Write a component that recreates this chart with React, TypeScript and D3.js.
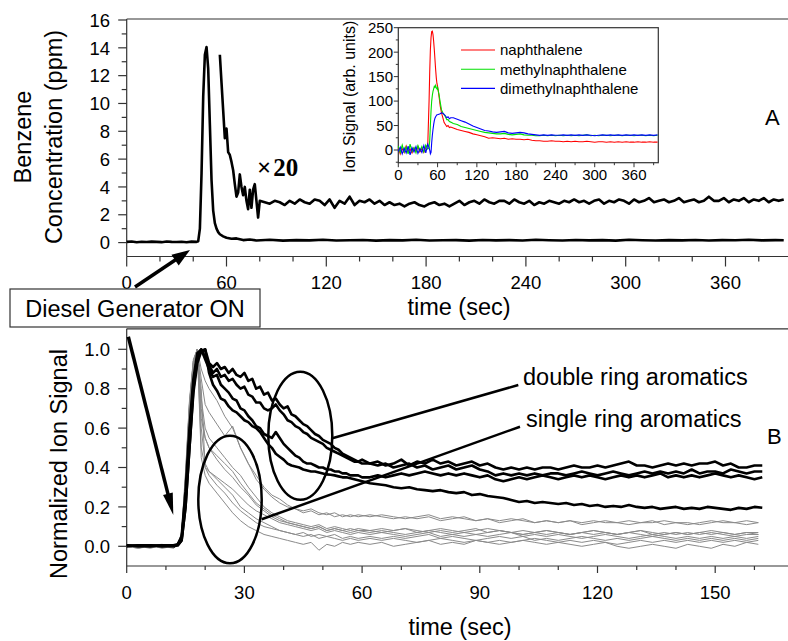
import React from "react";
import * as d3 from "d3";

const FONT = "'Liberation Sans', Arial, Helvetica, sans-serif";

// ---------------- Panel A : benzene concentration (ppm) ----------------
const benzeneTime = [0, 3, 6, 9, 12, 15, 18, 21, 24, 27, 30, 33, 36, 39, 42, 43, 44, 45, 46, 47, 48, 49, 50, 51, 52, 53, 54, 55, 56, 58, 60, 63, 66, 70, 74, ...d3.range(78, 391, 8), 395];
const benzeneValue = [
  0.05, 0.08, 0.03, 0.06, 0.04, 0.07, 0.05, 0.03, 0.08, 0.05, 0.04, 0.06, 0.03, 0.07, 0.05,
  0.1, 1.0, 5, 10.5, 13.5, 14.05, 12.5, 8.5, 4.5, 2.3, 1.4, 1.0, 0.75, 0.6, 0.45, 0.35,
  0.28, 0.3, 0.18, 0.22,
  0.15, 0.2, 0.14, 0.18, 0.16, 0.2, 0.15, 0.17, 0.19, 0.14, 0.18, 0.16, 0.2, 0.15, 0.17, 0.18, 0.14, 0.19, 0.16, 0.18,
  0.15, 0.2, 0.17, 0.15, 0.19, 0.16, 0.18, 0.14, 0.2, 0.17, 0.15, 0.18, 0.16, 0.19, 0.15, 0.18, 0.17, 0.2, 0.16, 0.18,
  0.17,
];
// same signal multiplied by 20
const x20Time = [...d3.range(56, 81, 1), ...d3.range(83, 396, 3)];
const x20Value = [
  13.5, 11.5, 9.5, 7.5, 8.2, 6.5, 6.3, 5.8, 5.2, 4.2, 3.3, 3.6, 4.9, 4.0, 3.4, 4.0, 3.0, 2.4, 3.8, 2.5, 3.8, 4.2, 3.0, 1.8, 3.0,
  2.9, 2.8, 3.0, 2.9, 2.7, 3.0, 2.8, 3.1, 2.9, 2.8, 3.1, 3.0, 2.7, 3.1, 2.5, 3.0, 2.8, 3.3, 2.7, 3.0,
  2.9, 3.1, 2.8, 3.0, 2.7, 2.9, 2.7, 2.8, 2.6, 2.8, 2.9, 2.7, 2.6, 2.8, 2.9, 2.7, 2.8, 2.6, 2.8, 3.0,
  2.7, 2.9, 3.0, 2.8, 3.1, 2.9, 2.8, 3.0, 3.0, 2.8, 3.1, 2.9, 2.8, 3.0, 2.7, 2.9, 2.8, 3.0, 2.9, 2.8,
  3.0, 2.9, 3.1, 2.9, 3.0, 2.8, 3.0, 3.1, 2.8, 3.0, 2.9, 3.1, 3.0, 2.8, 3.1, 2.9, 3.0, 3.2, 2.9, 3.0,
  3.1, 2.9, 3.0, 3.2, 2.9, 3.0, 3.1, 2.9, 3.0, 3.3, 3.0, 3.0, 3.2, 2.9, 3.1, 3.0, 3.2, 2.9, 3.1, 3.0,
  3.2, 2.9, 3.1, 3.0, 3.1,
];

// ---------------- Inset : ion signal (arb. units) ----------------
const insetTime = [...d3.range(0, 46, 3), ...d3.range(47, 61, 1), ...d3.range(62, 81, 2), ...d3.range(84, 397, 6)];
const naphthalene = [
  5, -8, 3, -5, 8, -3, 2, -6, 4, -2, 7, -4, 3, -5, 6, 10,
  100, 160, 205, 230, 242, 243, 236, 222, 205, 185, 165, 148, 136, 130,
  112, 90, 76, 66, 56, 52, 48, 50, 46, 47,
  45, 42, 40, 38, 36, 33, 31, 29, 27, 24, 25, 24, 23, 24, 22, 23, 22, 22, 21, 22,
  20, 19, 19, 18, 18, 19, 18, 18, 17, 18, 17, 18, 17, 17, 18, 17, 16, 17, 17, 16,
  17, 16, 17, 16, 17, 16, 16, 17, 16, 16, 17, 16, 16,
];
const methylnaphthalene = [
  8, -5, 10, -4, 6, -8, 12, -3, 5, -6, 9, -2, 7, -4, 10, 2,
  5, 20, 50, 80, 100, 112, 120, 125, 130, 128, 132, 127, 125, 128,
  115, 98, 82, 76, 72, 68, 62, 62, 58, 57,
  54, 52, 48, 46, 44, 42, 40, 38, 36, 35, 34, 33, 33, 34, 32, 31, 32, 33, 31, 30,
  30, 29, 29, 30, 29, 30, 29, 30, 29, 30, 29, 30, 29, 30, 31, 29, 30, 29, 30, 30,
  29, 30, 30, 29, 30, 30, 29, 30, 30, 29, 30, 29, 30,
];
const dimethylnaphthalene = [
  -3, 6, -8, 4, -6, 8, -10, 5, -4, 7, -7, 3, -5, 9, -6, 12,
  5, 0, -8, -5, 15, 30, 42, 52, 60, 65, 68, 70, 72, 72,
  73, 74, 76, 75, 73, 70, 66, 68, 64, 66,
  66, 63, 60, 57, 53, 49, 46, 43, 40, 39, 37, 36, 37, 38, 35, 34, 35, 36, 35, 33,
  32, 31, 30, 31, 30, 31, 30, 30, 31, 30, 31, 30, 31, 30, 31, 30, 29, 30, 31, 30,
  31, 30, 31, 30, 31, 30, 31, 30, 31, 30, 31, 30, 31,
];
const insetSeries = [
  { name: "naphthalene", color: "#ff0000", values: naphthalene },
  { name: "methylnaphthalene", color: "#00e000", values: methylnaphthalene },
  { name: "dimethylnaphthalene", color: "#0000ff", values: dimethylnaphthalene },
];

// ---------------- Panel B : normalized ion signal ----------------
const blackTime = [0, 3, 6, 9, 12, 13, 14, 15, 16, 17, 18, 19, 20, ...d3.range(21, 61, 1), ...d3.range(62, 163, 2)];
const doubleRing1 = [
  0, 0.005, 0, 0.005, 0, 0.005, 0.03, 0.2, 0.5, 0.78, 0.93, 0.99, 1.0,
  0.93, 0.91, 0.93, 0.9, 0.91, 0.88, 0.9, 0.87, 0.86, 0.88, 0.84, 0.85, 0.8, 0.81, 0.77, 0.78, 0.74, 0.75, 0.72, 0.7,
  0.71, 0.67, 0.66, 0.64, 0.62, 0.61, 0.59, 0.57, 0.56, 0.54, 0.53, 0.52, 0.5, 0.49, 0.47, 0.46, 0.45, 0.44, 0.43, 0.44,
  0.42, 0.43, 0.41, 0.42, 0.44, 0.41, 0.43, 0.42, 0.44, 0.42, 0.43, 0.41, 0.42, 0.43, 0.41, 0.42, 0.40, 0.39, 0.40, 0.39,
  0.40, 0.39, 0.40, 0.40, 0.39, 0.40, 0.41, 0.40, 0.40, 0.41, 0.40, 0.41, 0.42, 0.43, 0.41, 0.41, 0.40, 0.41, 0.42, 0.41,
  0.42, 0.41, 0.42, 0.42, 0.43, 0.41, 0.42, 0.40, 0.40, 0.41, 0.41,
];
const doubleRing2 = [
  0.005, 0, 0.005, 0, 0.005, 0.01, 0.05, 0.28, 0.6, 0.85, 0.98, 1.0, 0.96,
  0.92, 0.88, 0.9, 0.86, 0.87, 0.84, 0.85, 0.82, 0.8, 0.81, 0.77, 0.76, 0.73, 0.73, 0.7, 0.69, 0.7, 0.72, 0.69, 0.67,
  0.64, 0.63, 0.61, 0.6, 0.58, 0.57, 0.55, 0.54, 0.53, 0.52, 0.5, 0.49, 0.48, 0.47, 0.46, 0.45, 0.44, 0.43, 0.43, 0.42,
  0.42, 0.41, 0.42, 0.40, 0.41, 0.42, 0.40, 0.41, 0.39, 0.40, 0.41, 0.39, 0.40, 0.41, 0.39, 0.38, 0.36, 0.37, 0.36, 0.37,
  0.36, 0.37, 0.36, 0.37, 0.37, 0.36, 0.37, 0.38, 0.37, 0.36, 0.37, 0.38, 0.37, 0.36, 0.37, 0.38, 0.37, 0.38, 0.37, 0.38,
  0.37, 0.39, 0.37, 0.38, 0.38, 0.37, 0.39, 0.38, 0.37, 0.38, 0.38,
];
const doubleRing3 = [
  0, 0.005, 0.005, 0, 0, 0.01, 0.04, 0.24, 0.55, 0.82, 0.96, 1.0, 0.95,
  0.9, 0.86, 0.87, 0.82, 0.8, 0.78, 0.75, 0.74, 0.7, 0.69, 0.66, 0.64, 0.61, 0.6, 0.57, 0.56, 0.55, 0.58, 0.55, 0.52,
  0.5, 0.48, 0.46, 0.45, 0.43, 0.42, 0.42, 0.41, 0.4, 0.4, 0.39, 0.39, 0.38, 0.38, 0.37, 0.37, 0.36, 0.36, 0.36, 0.35,
  0.35, 0.36, 0.35, 0.36, 0.37, 0.36, 0.37, 0.38, 0.37, 0.36, 0.37, 0.36, 0.37, 0.36, 0.35, 0.36, 0.34, 0.33, 0.34, 0.35,
  0.34, 0.35, 0.36, 0.35, 0.34, 0.35, 0.36, 0.35, 0.36, 0.35, 0.34, 0.35, 0.36, 0.35, 0.36, 0.35, 0.36, 0.37, 0.35, 0.36,
  0.35, 0.36, 0.35, 0.36, 0.37, 0.36, 0.35, 0.36, 0.35, 0.34, 0.35,
];
const doubleRing4 = [
  0.005, 0, 0, 0.005, 0.005, 0.005, 0.03, 0.2, 0.5, 0.8, 0.95, 0.99, 1.0,
  0.88, 0.82, 0.79, 0.75, 0.74, 0.71, 0.69, 0.68, 0.66, 0.64, 0.63, 0.61, 0.6, 0.58, 0.55, 0.52, 0.5, 0.47, 0.455, 0.44,
  0.42, 0.41, 0.405, 0.40, 0.39, 0.385, 0.38, 0.38, 0.375, 0.37, 0.365, 0.363, 0.36, 0.355, 0.35, 0.35, 0.345, 0.34, 0.335, 0.33,
  0.32, 0.315, 0.31, 0.3, 0.295, 0.3, 0.29, 0.285, 0.28, 0.285, 0.275, 0.27, 0.275, 0.26, 0.265, 0.255, 0.25, 0.245, 0.235, 0.225,
  0.23, 0.22, 0.225, 0.22, 0.215, 0.22, 0.21, 0.215, 0.205, 0.21, 0.2, 0.205, 0.2, 0.21, 0.2, 0.195, 0.2, 0.19, 0.195, 0.2,
  0.19, 0.195, 0.19, 0.2, 0.195, 0.19, 0.185, 0.195, 0.19, 0.2, 0.196,
];
const doubleRingSeries = [doubleRing1, doubleRing2, doubleRing3, doubleRing4];

const grayTime = [0, 3, 6, 9, 12, 13, 14, 15, 16, 17, 18, 19, 20, ...d3.range(21, 60, 2), ...d3.range(62, 162, 3)];
const singleRing1 = [
  0, -0.01, 0.005, -0.01, 0, 0.01, 0.06, 0.35, 0.72, 0.94, 1.0, 0.9, 0.84,
  0.8, 0.74, 0.66, 0.6, 0.5, 0.42, 0.34, 0.29, 0.25, 0.22, 0.2, 0.19, 0.17, 0.18, 0.16, 0.17, 0.15, 0.16, 0.15, 0.16,
  0.15, 0.16, 0.15, 0.14, 0.15, 0.16, 0.14, 0.15, 0.14, 0.13, 0.14, 0.13, 0.14, 0.13, 0.12, 0.13, 0.12, 0.13, 0.12, 0.13,
  0.12, 0.12, 0.13, 0.12, 0.12, 0.13, 0.12, 0.11, 0.12, 0.13, 0.12, 0.12, 0.13, 0.12,
];
const singleRing2 = [
  0, 0.005, -0.005, 0, 0.01, 0.01, 0.07, 0.38, 0.74, 0.95, 1.0, 0.85, 0.72,
  0.68, 0.62, 0.56, 0.61, 0.5, 0.42, 0.36, 0.3, 0.26, 0.24, 0.21, 0.19, 0.18, 0.19, 0.17, 0.16, 0.17, 0.15, 0.16, 0.15,
  0.16, 0.15, 0.14, 0.15, 0.14, 0.15, 0.13, 0.14, 0.15, 0.13, 0.14, 0.12, 0.13, 0.14, 0.12, 0.13, 0.12, 0.13, 0.11, 0.12,
  0.13, 0.12, 0.11, 0.12, 0.13, 0.11, 0.12, 0.12, 0.11, 0.12, 0.13, 0.12, 0.11, 0.12,
];
const singleRing3 = [
  0.005, 0, -0.01, 0.005, 0, 0.005, 0.05, 0.32, 0.7, 0.93, 1.0, 0.7, 0.55,
  0.5, 0.46, 0.42, 0.38, 0.32, 0.27, 0.22, 0.19, 0.16, 0.14, 0.12, 0.11, 0.1, 0.09, 0.1, 0.08, 0.09, 0.08, 0.07, 0.08,
  0.07, 0.08, 0.07, 0.06, 0.07, 0.08, 0.07, 0.06, 0.07, 0.06, 0.07, 0.08, 0.07, 0.06, 0.07, 0.06, 0.07, 0.06, 0.07, 0.08,
  0.07, 0.06, 0.07, 0.06, 0.05, 0.06, 0.07, 0.06, 0.07, 0.06, 0.07, 0.06, 0.07, 0.06,
];
const singleRing4 = [
  0, -0.005, 0.005, 0, -0.01, 0.01, 0.06, 0.36, 0.73, 0.94, 1.0, 0.6, 0.42,
  0.38, 0.35, 0.32, 0.29, 0.25, 0.21, 0.18, 0.16, 0.14, 0.12, 0.11, 0.1, 0.09, 0.08, 0.09, 0.07, 0.08, 0.07, 0.06, 0.07,
  0.06, 0.07, 0.06, 0.05, 0.06, 0.07, 0.05, 0.06, 0.05, 0.06, 0.05, 0.06, 0.07, 0.05, 0.06, 0.05, 0.06, 0.05, 0.04, 0.05,
  0.06, 0.05, 0.04, 0.05, 0.06, 0.05, 0.04, 0.05, 0.04, 0.05, 0.04, 0.05, 0.04, 0.05,
];
const singleRing5 = [
  0, 0.005, 0, -0.005, 0.005, 0.01, 0.06, 0.34, 0.7, 0.92, 1.0, 0.5, 0.4,
  0.36, 0.31, 0.27, 0.22, 0.18, 0.15, 0.12, 0.1, 0.09, 0.08, 0.07, 0.06, 0.07, 0.05, 0.06, 0.05, 0.06, 0.04, 0.05, 0.04,
  0.05, 0.04, 0.05, 0.04, 0.05, 0.06, 0.04, 0.05, 0.04, 0.03, 0.04, 0.05, 0.04, 0.05, 0.03, 0.04, 0.03, 0.04, 0.05, 0.04,
  0.03, 0.04, 0.03, 0.04, 0.05, 0.04, 0.03, 0.04, 0.03, 0.04, 0.03, 0.04, 0.03, 0.04,
];
const singleRing6 = [
  0, 0, 0.005, 0.01, 0, 0.01, 0.05, 0.3, 0.68, 0.92, 1.0, 0.75, 0.6,
  0.55, 0.5, 0.45, 0.4, 0.36, 0.3, 0.25, 0.2, 0.17, 0.15, 0.13, 0.12, 0.11, 0.1, 0.11, 0.09, 0.1, 0.09, 0.08, 0.09,
  0.08, 0.09, 0.08, 0.09, 0.07, 0.08, 0.09, 0.08, 0.07, 0.08, 0.09, 0.08, 0.07, 0.08, 0.07, 0.08, 0.07, 0.06, 0.07, 0.08,
  0.07, 0.06, 0.07, 0.08, 0.07, 0.06, 0.07, 0.06, 0.07, 0.08, 0.07, 0.06, 0.07, 0.07,
];
const singleRing7 = [
  0, -0.01, 0, -0.005, 0, 0.005, 0.05, 0.33, 0.7, 0.93, 1.0, 0.45, 0.36,
  0.32, 0.27, 0.22, 0.17, 0.13, 0.1, 0.08, 0.06, 0.05, 0.04, 0.03, 0.02, 0.01, 0.02, -0.02, 0.01, 0.0, 0.02, 0.01, 0.02,
  0.01, 0.02, 0.0, 0.01, 0.02, 0.03, 0.01, 0.02, 0.01, 0.03, 0.02, 0.01, 0.02, 0.03, 0.02, 0.01, 0.02, 0.01, 0.0, 0.01,
  0.02, 0.0, -0.01, 0.0, 0.01, 0.0, -0.01, 0.01, 0.0, -0.01, 0.01, 0.0, 0.02, 0.01,
];
const singleRing8 = [
  0.005, 0, 0, 0.005, 0, 0.01, 0.06, 0.35, 0.72, 0.94, 1.0, 0.65, 0.55,
  0.5, 0.44, 0.39, 0.35, 0.3, 0.26, 0.21, 0.18, 0.15, 0.13, 0.12, 0.11, 0.1, 0.09, 0.1, 0.08, 0.09, 0.08, 0.09, 0.08,
  0.08, 0.07, 0.08, 0.09, 0.08, 0.07, 0.08, 0.07, 0.08, 0.09, 0.07, 0.08, 0.07, 0.06, 0.07, 0.08, 0.07, 0.06, 0.07, 0.06,
  0.07, 0.06, 0.07, 0.08, 0.06, 0.07, 0.06, 0.07, 0.06, 0.07, 0.06, 0.05, 0.06, 0.06,
];
const singleRing9 = [
  0, 0.005, -0.005, 0, 0.005, 0.005, 0.04, 0.3, 0.66, 0.9, 0.98, 0.8, 0.4,
  0.38, 0.34, 0.3, 0.26, 0.2, 0.17, 0.14, 0.12, 0.1, 0.08, 0.07, 0.06, 0.05, 0.06, 0.04, 0.05, 0.04, 0.03, 0.04, 0.03,
  0.04, 0.03, 0.04, 0.03, 0.02, 0.03, 0.04, 0.03, 0.02, 0.03, 0.02, 0.03, 0.02, 0.03, 0.04, 0.03, 0.02, 0.03, 0.02, 0.03,
  0.02, 0.01, 0.02, 0.03, 0.02, 0.03, 0.02, 0.03, 0.02, 0.03, 0.02, 0.03, 0.02, 0.03,
];
const singleRingSeries = [singleRing1, singleRing2, singleRing3, singleRing4, singleRing5, singleRing6, singleRing7, singleRing8, singleRing9];

// ---------------- ticks ----------------
const topXTicks = [0, 60, 120, 180, 240, 300, 360];
const topYTicks = [0, 2, 4, 6, 8, 10, 12, 14, 16];
const insetXTicks = [0, 60, 120, 180, 240, 300, 360];
const insetYTicks = [0, 50, 100, 150, 200, 250];
const bottomXTicks = [0, 30, 60, 90, 120, 150];
const bottomYTicks = [0, 0.2, 0.4, 0.6, 0.8, 1.0];

type Pt = [number, number];
const zip = (t: number[], v: number[]): Pt[] => {
  const n = Math.min(t.length, v.length);
  const out: Pt[] = [];
  for (let i = 0; i < n; i++) out.push([t[i], v[i]]);
  return out;
};

function Arrow({ x1, y1, x2, y2, len, half, w }: { x1: number; y1: number; x2: number; y2: number; len: number; half: number; w: number }) {
  const dx = x2 - x1, dy = y2 - y1;
  const L = Math.hypot(dx, dy);
  const ux = dx / L, uy = dy / L;
  const bx = x2 - ux * len, by = y2 - uy * len;
  const px = -uy, py = ux;
  const pts = `${x2},${y2} ${bx + px * half},${by + py * half} ${bx - px * half},${by - py * half}`;
  return (
    <g>
      <line x1={x1} y1={y1} x2={bx + ux * 2} y2={by + uy * 2} stroke="#000" strokeWidth={w} />
      <polygon points={pts} fill="#000" />
    </g>
  );
}

export default function App() {
  const AX = "#333";
  const TICK = 18.5;
  const BIG = 23.5;
  // Panel A scales
  const xA = d3.scaleLinear().domain([0, 360]).range([126.7, 725.5]);
  const yA = d3.scaleLinear().domain([-1, 16]).range([256.5, 20]);
  // Inset scales
  const xI = d3.scaleLinear().domain([0, 360]).range([398.3, 634]);
  const yI = d3.scaleLinear().domain([0, 250]).range([150, 27.7]);
  // Panel B scales
  const xB = d3.scaleLinear().domain([0, 150]).range([126.7, 715.2]);
  const yB = d3.scaleLinear().domain([0, 1]).range([546.3, 349.3]);

  const lineA = d3.line<Pt>().x((d) => xA(d[0])).y((d) => yA(d[1]));
  const lineI = d3.line<Pt>().x((d) => xI(d[0])).y((d) => yI(d[1]));
  const lineB = d3.line<Pt>().x((d) => xB(d[0])).y((d) => yB(d[1]));

  const aTop = 19, aBot = yA(-1), aLeft = xA(0), right = 788;
  const bTop = 328.8, bBot = yB(-0.1), bLeft = xB(0);
  const iL = xI(0), iR = 658.3, iT = yI(250), iB = 162.7;

  const topYMinor = d3.range(1, 16, 2);
  const topXMinor = d3.range(20, 397, 20).filter((v) => v % 60 !== 0);
  const insetYMinor = [-25, ...d3.range(25, 250, 50)];
  const insetXMinor = d3.range(30, 397, 60);
  const bottomYMinor = [0.1, 0.3, 0.5, 0.7, 0.9];
  const bottomXMinor = d3.range(10, 168, 10).filter((v) => v % 30 !== 0);

  return (
    <svg width={788} height={641} style={{ position: "absolute", left: 0, top: 0, background: "#fff" }} fontFamily={FONT}>
      <rect x={0} y={0} width={788} height={641} fill="#fff" />

      {/* ================= Panel A ================= */}
      <g>
        <line x1={aLeft} y1={aTop} x2={right} y2={aTop} stroke={AX} strokeWidth={1.2} />
        <line x1={aLeft} y1={aTop} x2={aLeft} y2={aBot} stroke={AX} strokeWidth={1.2} />
        <line x1={aLeft} y1={aBot} x2={right} y2={aBot} stroke={AX} strokeWidth={1.2} />
        {topYTicks.map((v) => (
          <g key={"ay" + v}>
            <line x1={aLeft - 8.5} x2={aLeft} y1={yA(v)} y2={yA(v)} stroke={AX} strokeWidth={1.2} />
            <text x={110} y={yA(v) + 6.7} fontSize={TICK} textAnchor="end">{v}</text>
          </g>
        ))}
        {topYMinor.map((v) => (
          <line key={"aym" + v} x1={aLeft - 5} x2={aLeft} y1={yA(v)} y2={yA(v)} stroke={AX} strokeWidth={1.2} />
        ))}
        {topXTicks.map((v) => (
          <g key={"ax" + v}>
            <line x1={xA(v)} x2={xA(v)} y1={aBot} y2={aBot + 10} stroke={AX} strokeWidth={1.2} />
            <text x={xA(v)} y={289} fontSize={TICK} textAnchor="middle">{v}</text>
          </g>
        ))}
        {topXMinor.map((v) => (
          <line key={"axm" + v} x1={xA(v)} x2={xA(v)} y1={aBot} y2={aBot + 5} stroke={AX} strokeWidth={1.2} />
        ))}

        <path d={lineA(zip(benzeneTime, benzeneValue)) || ""} fill="none" stroke="#000" strokeWidth={2.6} strokeLinejoin="round" />
        <path d={lineA(zip(x20Time, x20Value)) || ""} fill="none" stroke="#000" strokeWidth={2.6} strokeLinejoin="round" />

        <text x={257} y={176} fontSize={25} fontWeight="bold" fontFamily="'Liberation Serif', 'Times New Roman', serif">
          ×<tspan dx={2}>20</tspan>
        </text>
        <text x={765} y={125} fontSize={22}>A</text>

        {/* y label */}
        <text transform="translate(31,137) rotate(-90)" fontSize={BIG} textAnchor="middle">Benzene</text>
        <text transform="translate(62,137) rotate(-90)" fontSize={BIG} textAnchor="middle">Concentration (ppm)</text>
        <text x={459} y={315} fontSize={BIG} textAnchor="middle">time (sec)</text>
      </g>

      {/* ================= Inset ================= */}
      <g>
        <rect x={iL} y={iT} width={iR - iL} height={iB - iT} fill="#fff" stroke={AX} strokeWidth={1.2} />
        {insetYTicks.map((v) => (
          <g key={"iy" + v}>
            <line x1={iL - 4.5} x2={iL} y1={yI(v)} y2={yI(v)} stroke={AX} strokeWidth={1} />
            <text x={393} y={yI(v) + 5.4} fontSize={15} textAnchor="end">{v}</text>
          </g>
        ))}
        {insetYMinor.map((v) => (
          <line key={"iym" + v} x1={iL - 2.5} x2={iL} y1={yI(v)} y2={yI(v)} stroke={AX} strokeWidth={1} />
        ))}
        {insetXTicks.map((v) => (
          <g key={"ix" + v}>
            <line x1={xI(v)} x2={xI(v)} y1={iB} y2={iB + 4.5} stroke={AX} strokeWidth={1} />
            <text x={xI(v)} y={179.7} fontSize={15} textAnchor="middle">{v}</text>
          </g>
        ))}
        {insetXMinor.map((v) => (
          <line key={"ixm" + v} x1={xI(v)} x2={xI(v)} y1={iB} y2={iB + 2.5} stroke={AX} strokeWidth={1} />
        ))}
        {insetSeries.map((s) => (
          <path key={s.name} d={lineI(zip(insetTime, s.values)) || ""} fill="none" stroke={s.color} strokeWidth={1.1} />
        ))}
        {insetSeries.map((s, i) => (
          <g key={"lg" + s.name}>
            <line x1={461} x2={495} y1={50 + i * 19.2} y2={50 + i * 19.2} stroke={s.color} strokeWidth={1.1} />
            <text x={500} y={50 + i * 19.2 + 5.4} fontSize={15}>{s.name}</text>
          </g>
        ))}
        <text transform="translate(355,96.7) rotate(-90)" fontSize={16} textAnchor="middle">Ion Signal (arb. units)</text>
      </g>

      {/* annotation A */}
      <rect x={10} y={289} width={250} height={38} fill="#fff" stroke={AX} strokeWidth={1.2} />
      <text x={135} y={316.5} fontSize={BIG} textAnchor="middle">Diesel Generator ON</text>
      <Arrow x1={135} y1={287} x2={190} y2={250} len={18} half={6.5} w={3.5} />

      {/* ================= Panel B ================= */}
      <g>
        <line x1={bLeft} y1={bTop} x2={right} y2={bTop} stroke={AX} strokeWidth={1.2} />
        <line x1={bLeft} y1={bTop} x2={bLeft} y2={bBot} stroke={AX} strokeWidth={1.2} />
        <line x1={bLeft} y1={bBot} x2={right} y2={bBot} stroke={AX} strokeWidth={1.2} />
        {bottomYTicks.map((v) => (
          <g key={"by" + v}>
            <line x1={bLeft - 8.5} x2={bLeft} y1={yB(v)} y2={yB(v)} stroke={AX} strokeWidth={1.2} />
            <text x={110} y={yB(v) + 6.7} fontSize={TICK} textAnchor="end">{v.toFixed(1)}</text>
          </g>
        ))}
        {bottomYMinor.map((v) => (
          <line key={"bym" + v} x1={bLeft - 5} x2={bLeft} y1={yB(v)} y2={yB(v)} stroke={AX} strokeWidth={1.2} />
        ))}
        {bottomXTicks.map((v) => (
          <g key={"bx" + v}>
            <line x1={xB(v)} x2={xB(v)} y1={bBot} y2={bBot + 7} stroke={AX} strokeWidth={1.2} />
            <text x={xB(v)} y={598.5} fontSize={TICK} textAnchor="middle">{v}</text>
          </g>
        ))}
        {bottomXMinor.map((v) => (
          <line key={"bxm" + v} x1={xB(v)} x2={xB(v)} y1={bBot} y2={bBot + 4} stroke={AX} strokeWidth={1.2} />
        ))}

        {singleRingSeries.map((s, i) => (
          <path key={"g" + i} d={lineB(zip(grayTime, s)) || ""} fill="none" stroke="#8a8a8a" strokeWidth={1} strokeLinejoin="round" />
        ))}
        {doubleRingSeries.map((s, i) => (
          <path key={"k" + i} d={lineB(zip(blackTime, s)) || ""} fill="none" stroke="#000" strokeWidth={2.6} strokeLinejoin="round" />
        ))}

        <ellipse cx={300.3} cy={435.8} rx={32} ry={64} fill="none" stroke="#000" strokeWidth={2.5} />
        <ellipse cx={230} cy={499.5} rx={31.7} ry={63.8} fill="none" stroke="#000" strokeWidth={2.5} />
        <line x1={332.3} y1={438.3} x2={518.3} y2={385} stroke="#000" strokeWidth={2.5} />
        <line x1={261.7} y1={519.3} x2={520} y2={426.7} stroke="#000" strokeWidth={2.5} />
        <text x={523} y={385} fontSize={BIG}>double ring aromatics</text>
        <text x={526} y={427} fontSize={BIG}>single ring aromatics</text>
        <text x={767} y={444} fontSize={22}>B</text>

        <Arrow x1={128.3} y1={336.7} x2={173.3} y2={515} len={22} half={5} w={3.5} />

        <text transform="translate(67,464) rotate(-90)" fontSize={BIG} textAnchor="middle">Normalized Ion Signal</text>
        <text x={460} y={635} fontSize={BIG} textAnchor="middle">time (sec)</text>
      </g>
    </svg>
  );
}
